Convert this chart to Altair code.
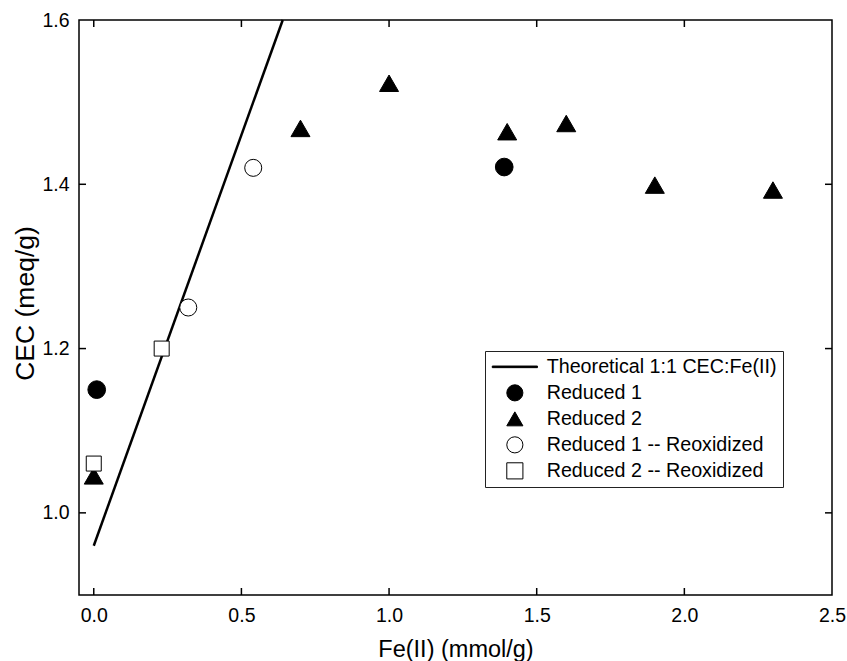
import altair as alt
import pandas as pd

SERIES = [
    "Theoretical 1:1 CEC:Fe(II)",
    "Reduced 1",
    "Reduced 2",
    "Reduced 1 -- Reoxidized",
    "Reduced 2 -- Reoxidized",
]

# Theoretical 1:1 relationship: CEC rises one meq/g per mmol/g Fe(II)
theory_fe = [0.0, 0.64]
theory_cec = [0.96, 1.60]

red1_fe = [0.01, 1.39]
red1_cec = [1.15, 1.421]

red2_fe = [0.0, 0.70, 1.00, 1.40, 1.60, 1.90, 2.30]
red2_cec = [1.045, 1.468, 1.523, 1.464, 1.474, 1.399, 1.393]

red1_reox_fe = [0.32, 0.54]
red1_reox_cec = [1.25, 1.42]

red2_reox_fe = [0.0, 0.23]
red2_reox_cec = [1.06, 1.20]

x_labels = [0.0, 0.5, 1.0, 1.5, 2.0, 2.5]
y_labels = [1.0, 1.2, 1.4, 1.6]
x_tick_marks = [0.0, 0.5, 1.0, 1.5, 2.0]
y_tick_marks = [1.0, 1.2, 1.4]

W, H = 753, 575
FONT = "Liberation Sans"

theory = pd.DataFrame({"fe": theory_fe, "cec": theory_cec})

xs = alt.Scale(domain=[-0.05, 2.5], nice=False, zero=False)
ys = alt.Scale(domain=[0.9, 1.6], nice=False, zero=False)

x_axis = alt.Axis(
    values=x_labels, format=".1f", ticks=False, domain=False, grid=False,
    labelPadding=11, labelFontSize=19.5, labelFlush=False, labelOverlap=False,
    labelBound=False, titleFontSize=23.5, titleY=61, titleBaseline="alphabetic",
)
y_axis = alt.Axis(
    values=y_labels, format=".1f", ticks=False, domain=False, grid=False,
    labelPadding=10, labelFontSize=19.5, labelFlush=False, labelOverlap=False,
    labelBound=False, titleFontSize=26.5, titleAngle=270, titleX=-46, titleY=283,
    titleBaseline="alphabetic",
)
X = alt.X("fe:Q", scale=xs, axis=x_axis, title="Fe(II) (mmol/g)")
Y = alt.Y("cec:Q", scale=ys, axis=y_axis, title="CEC (meq/g)")

legend = alt.Legend(
    title=None, orient="none", legendX=406, legendY=331,
    strokeColor="#222222", fillColor="white", padding=6,
    symbolSize=260, symbolStrokeColor="black", symbolStrokeWidth=1,
    symbolOffset=14, labelOffset=22, rowPadding=5, labelLimit=0,
    labelFontSize=19.7, labelFont=FONT, labelColor="black",
)
shape_scale = alt.Scale(
    domain=SERIES,
    range=["M-2.8,-0.1H2.8V0.1H-2.8Z", "circle", "triangle-up", "circle", "square"],
)
fill_scale = alt.Scale(domain=SERIES, range=["black", "black", "black", "white", "white"])
stroke_scale = alt.Scale(domain=SERIES, range=["black"] * len(SERIES))

line = alt.Chart(theory).mark_line(color="black", strokeWidth=2.5).encode(x=X, y=Y)


def marker_layer(name, fe, cec, size):
    df = pd.DataFrame({"series": name, "fe": fe, "cec": cec})
    return alt.Chart(df).mark_point(
        strokeWidth=1, opacity=1, fillOpacity=1, size=size
    ).encode(
        x=X,
        y=Y,
        shape=alt.Shape("series:N", scale=shape_scale, legend=legend),
        fill=alt.Fill("series:N", scale=fill_scale, legend=legend),
        stroke=alt.Stroke("series:N", scale=stroke_scale, legend=legend),
    )


red1 = marker_layer(SERIES[1], red1_fe, red1_cec, 313)
red2 = marker_layer(SERIES[2], red2_fe, red2_cec, 361)
red1_reox = marker_layer(SERIES[3], red1_reox_fe, red1_reox_cec, 290)
red2_reox = marker_layer(SERIES[4], red2_reox_fe, red2_reox_cec, 225)

xt = pd.DataFrame({"fe": x_tick_marks})
yt = pd.DataFrame({"cec": y_tick_marks})
tick_style = dict(color="black", strokeWidth=1.5)
bottom_ticks = alt.Chart(xt).mark_rule(**tick_style).encode(x=X, y=alt.value(H), y2=alt.value(H - 7))
top_ticks = alt.Chart(xt).mark_rule(**tick_style).encode(x=X, y=alt.value(0), y2=alt.value(7))
left_ticks = alt.Chart(yt).mark_rule(**tick_style).encode(y=Y, x=alt.value(0), x2=alt.value(7))
right_ticks = alt.Chart(yt).mark_rule(**tick_style).encode(y=Y, x=alt.value(W - 7), x2=alt.value(W))

chart = (
    alt.layer(line, red1, red2, red1_reox, red2_reox,
              bottom_ticks, top_ticks, left_ticks, right_ticks)
    .properties(
        width=W, height=H,
        autosize=alt.AutoSizeParams(type="none"),
        padding={"left": 79, "top": 20, "right": 15, "bottom": 66},
        background="white",
    )
    .configure_view(stroke="black", strokeWidth=1.5)
    .configure_axis(labelFont=FONT, titleFont=FONT, labelColor="black", titleColor="black",
                    titleFontWeight="normal")
)

chart.save("out.html", embed_options={"renderer": "svg", "actions": False})
